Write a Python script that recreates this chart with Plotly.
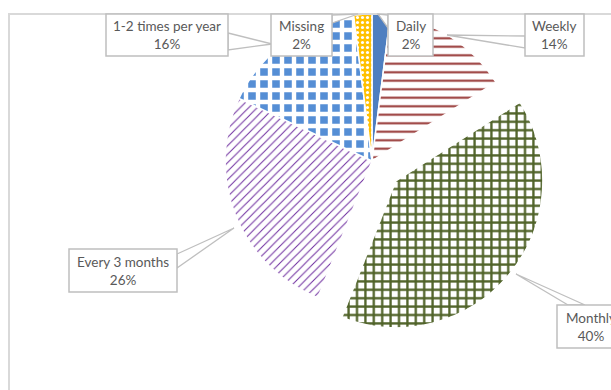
import math
import plotly.graph_objects as go

# Survey answers: how often the activity happens
labels = ["Daily", "Weekly", "Monthly", "Every 3 months", "1-2 times per year", "Missing"]
values = [2, 14, 40, 26, 16, 2]

# Slice styling (Excel-like pattern fills)
base_colors = ["#4F7FC0", "#FFFFFF", "#FFFFFF", "#FFFFFF", "#558ED5", "#FFC000"]
pattern_shapes = ["", "-", "+", "/", "+", "."]
pattern_fg = ["#4F7FC0", "#963634", "#4F6228", "#7030A0", "#FFFFFF", "#FFFFFF"]
pattern_size = [8, 8.5, 8.4, 6, 12, 5]
pattern_solidity = [0.3, 0.24, 0.47, 0.17, 0.6, 0.3]

exploded = "Monthly"

W, H = 611, 390
CX, CY, R = 372, 161, 147      # pie centre / radius in pixels
PULL_PX = 31                   # how far the exploded slice is moved out

TEXT_COLOR = "#595959"
BOX_LINE = "#BFBFBF"
FONT = "Lato"


def px(x):
    return x / W


def py(y):
    return 1 - y / H


def domain(cx, cy):
    return dict(x=[px(cx - R), px(cx + R)], y=[py(cy + R), py(cy - R)])


def pie(visible_mask, cx, cy):
    clear = "rgba(0,0,0,0)"
    return go.Pie(
        labels=labels,
        values=values,
        sort=False,
        direction="clockwise",
        rotation=0,
        textinfo="none",
        hoverinfo="label+percent",
        showlegend=False,
        domain=domain(cx, cy),
        marker=dict(
            colors=[c if v else clear for c, v in zip(base_colors, visible_mask)],
            line=dict(color=["#FFFFFF" if v else clear for v in visible_mask],
                      width=[1.5 if v else 0 for v in visible_mask]),
            pattern=dict(
                shape=[s if v else "" for s, v in zip(pattern_shapes, visible_mask)],
                fgcolor=[c if v else clear for c, v in zip(pattern_fg, visible_mask)],
                bgcolor=[c if v else clear for c, v in zip(base_colors, visible_mask)],
                size=pattern_size,
                solidity=pattern_solidity,
                fillmode="replace",
            ),
        ),
    )


# direction of the exploded slice from the slice's middle angle
total = sum(values)
idx = labels.index(exploded)
start = sum(values[:idx]) / total * 360
mid = math.radians(start + values[idx] / total * 180)
ex_cx = CX + PULL_PX * math.sin(mid)
ex_cy = CY - PULL_PX * math.cos(mid)

main_mask = [lab != exploded for lab in labels]
ex_mask = [lab == exploded for lab in labels]

fig = go.Figure()
fig.add_trace(pie(main_mask, CX, CY))
fig.add_trace(pie(ex_mask, ex_cx, ex_cy))

# Callout boxes: box (x0, y0, x1, y1), pointer base points and tip, in pixels
callouts = {
    "1-2 times per year": dict(box=(106, 14, 228, 56), base=((228, 33), (228, 50)), tip=(272, 44)),
    "Missing": dict(box=(271, 14, 332, 56), base=((332, 15), (332, 23)), tip=(358, 14)),
    "Daily": dict(box=(388, 14, 433, 56), base=((388, 15), (388, 28)), tip=(378, 14)),
    "Weekly": dict(box=(525, 14, 584, 56), base=((525, 36), (525, 48)), tip=(447, 35)),
    "Every 3 months": dict(box=(69, 249, 177, 292), base=((177, 254), (177, 268)), tip=(234, 228)),
    "Monthly": dict(box=(557, 305, 625, 348), base=((568, 305), (585, 305)), tip=(516, 274)),
}

shapes = []
# chart frame
shapes.append(dict(type="rect", xref="paper", yref="paper",
                   x0=px(9), y0=py(14), x1=px(W + 20), y1=py(H + 20),
                   line=dict(color="#D9D9D9", width=2), fillcolor="rgba(0,0,0,0)",
                   layer="above"))
# pointers first, boxes on top of them
for lab, c in callouts.items():
    (bx1, by1), (bx2, by2) = c["base"]
    tx, ty = c["tip"]
    path = (f"M {px(bx1)} {py(by1)} L {px(tx)} {py(ty)} "
            f"L {px(bx2)} {py(by2)} Z")
    shapes.append(dict(type="path", xref="paper", yref="paper", path=path,
                       fillcolor="#FFFFFF", line=dict(color=BOX_LINE, width=1.3),
                       layer="above"))
for lab, c in callouts.items():
    x0, y0, x1, y1 = c["box"]
    shapes.append(dict(type="rect", xref="paper", yref="paper",
                       x0=px(x0), y0=py(y0), x1=px(x1), y1=py(y1),
                       fillcolor="#FFFFFF", line=dict(color=BOX_LINE, width=1.5),
                       layer="above"))

annotations = []
for lab, val in zip(labels, values):
    x0, y0, x1, y1 = callouts[lab]["box"]
    pct = round(val / total * 100)
    annotations.append(dict(
        xref="paper", yref="paper",
        x=px((x0 + x1) / 2), y=py((y0 + y1) / 2),
        xanchor="center", yanchor="middle",
        text=f"{lab}<br>{pct}%", showarrow=False, align="center",
        font=dict(family=FONT, size=13.5, color=TEXT_COLOR),
    ))

fig.update_layout(
    width=W, height=H,
    margin=dict(l=0, r=0, t=0, b=0),
    paper_bgcolor="#FFFFFF",
    plot_bgcolor="#FFFFFF",
    showlegend=False,
    shapes=shapes,
    annotations=annotations,
)

fig.write_html("out.html")
